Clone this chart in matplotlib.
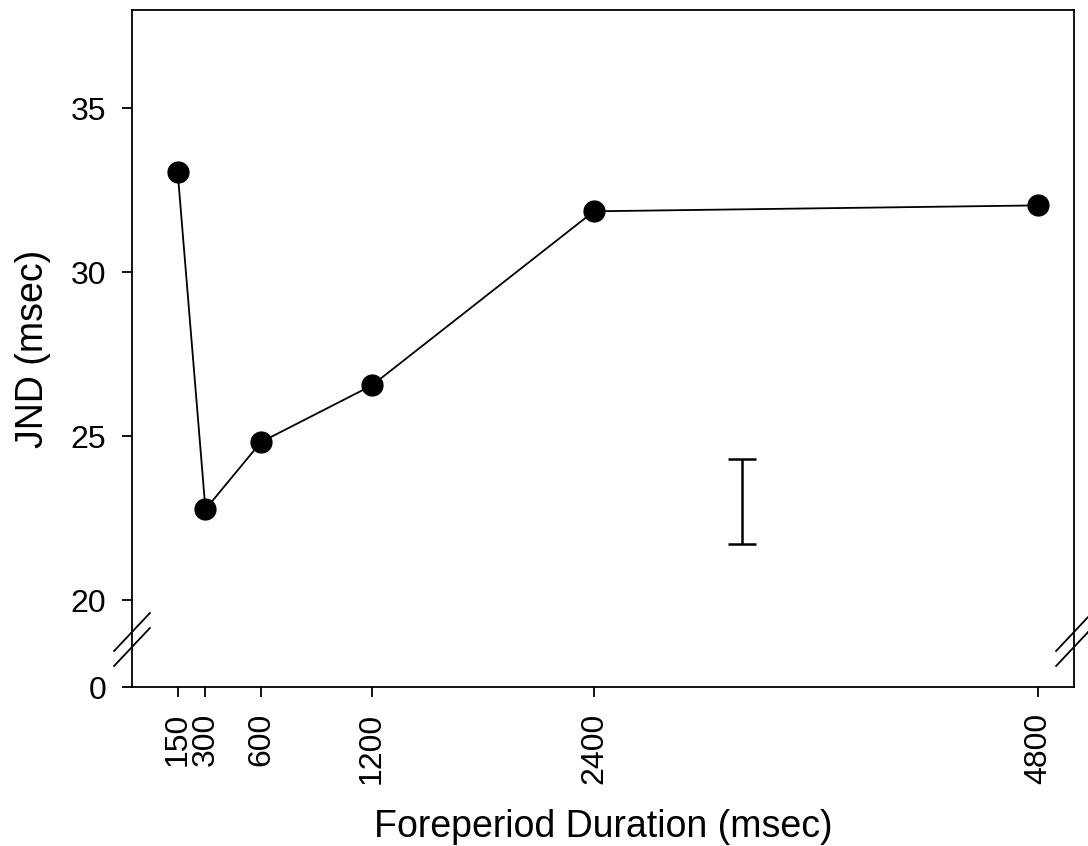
import numpy as np
import matplotlib.pyplot as plt

plt.rcParams['font.family'] = ['Liberation Sans', 'DejaVu Sans']

# ── Data ──────────────────────────────────────────────────────────────────────
foreperiod = [150, 300, 600, 1200, 2400, 4800]
jnd = [33.05, 22.77, 24.82, 26.55, 31.86, 32.04]

# representative error bar
err_x = 3200
err_center = 23.0
err_half = 1.3

xtick_vals = [150, 300, 600, 1200, 2400, 4800]
ytick_vals = [20, 25, 30, 35]

# broken y axis: the "0" label sits a short gap below 20
y_zero_pos = 17.35

# ── Plot ──────────────────────────────────────────────────────────────────────
fig = plt.figure(figsize=(10.88, 8.46), dpi=100)
ax = fig.add_axes([132 / 1088, 1 - 687 / 846, (1074 - 132) / 1088, (687 - 10) / 846])

ax.plot(foreperiod, jnd, color="black", lw=1.3, marker="o", ms=15,
        mfc="black", mec="black", zorder=3)
ax.errorbar([err_x], [err_center], yerr=[err_half], color="black",
            lw=1.8, capsize=10, capthick=1.8, fmt="none")

ax.set_xlim(-97, 4995)
ax.set_ylim(y_zero_pos, 38)

ax.set_xticks(xtick_vals)
ax.set_xticklabels([str(v) for v in xtick_vals], rotation=90, fontsize=23)
ax.set_yticks([y_zero_pos] + ytick_vals)
ax.set_yticklabels(["0"] + [str(v) for v in ytick_vals], fontsize=23)

ax.tick_params(axis="both", direction="out", length=7.5, width=1.3)
ax.tick_params(axis="x", pad=11)
ax.tick_params(axis="y", pad=11)
for s in ax.spines.values():
    s.set_linewidth(1.3)

ax.set_xlabel("Foreperiod Duration (msec)", fontsize=27, labelpad=18)
ax.set_ylabel("JND (msec)", fontsize=27, labelpad=14)

# axis break marks on left and right spines
for xs in (0, 1):
    for dy in (0, -15):
        ax.plot([xs - 0.019, xs + 0.019], [(687 - 651 + dy) / 677,
                                            (687 - 613 + dy) / 677],
                transform=ax.transAxes, color="black", lw=1.3, clip_on=False)

fig.savefig("out.png", dpi=100)
